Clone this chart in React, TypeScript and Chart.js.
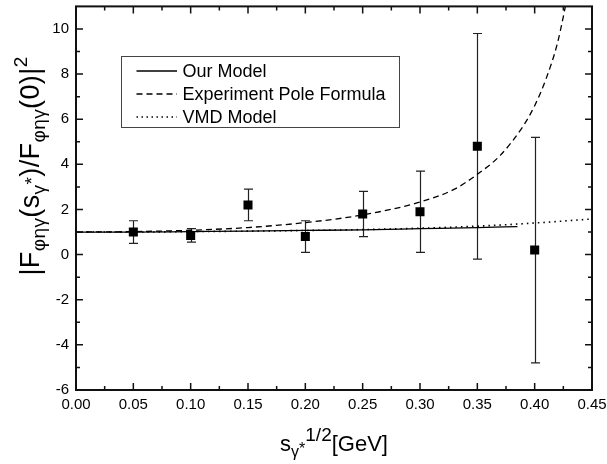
import React, { useEffect, useRef } from 'react';
import { Chart, registerables } from 'chart.js';
Chart.register(...registerables);

const FONT = '"Liberation Sans", Arial, Helvetica, sans-serif';

// Experimental points with symmetric error bars
const dataX = [0.05, 0.10, 0.15, 0.20, 0.25, 0.30, 0.35, 0.40];
const dataY = [1.0, 0.85, 2.2, 0.8, 1.8, 1.9, 4.8, 0.2];
const dataErr = [0.5, 0.3, 0.7, 0.7, 1.0, 1.8, 5.0, 5.0];

// Our Model (solid)
const ourModelX = [0, 0.05, 0.10, 0.15, 0.20, 0.25, 0.30, 0.35, 0.385];
const ourModelY = [1.0, 1.0, 1.02, 1.04, 1.07, 1.10, 1.15, 1.20, 1.24];

// Experiment Pole Formula (dashed)
const poleX = [0, 0.05, 0.10, 0.15, 0.20, 0.25, 0.30, 0.33, 0.35, 0.37, 0.39, 0.40, 0.41, 0.42, 0.43];
const poleY = [1.0, 1.02, 1.08, 1.2, 1.42, 1.76, 2.33, 2.9, 3.56, 4.4, 5.7, 6.6, 7.8, 9.4, 11.8];

// VMD Model (dotted)
const vmdX = [0, 0.05, 0.10, 0.15, 0.20, 0.25, 0.30, 0.35, 0.40, 0.45];
const vmdY = [1.0, 1.0, 1.02, 1.04, 1.07, 1.11, 1.17, 1.26, 1.40, 1.58];

const xTickValues = [0, 0.05, 0.10, 0.15, 0.20, 0.25, 0.30, 0.35, 0.40, 0.45];
const xMinorValues = [0.025, 0.075, 0.125, 0.175, 0.225, 0.275, 0.325, 0.375, 0.425];
const yTickValues = [-6, -4, -2, 0, 2, 4, 6, 8, 10];
const yMinorValues = [-5, -3, -1, 1, 3, 5, 7, 9];

const legendLabels = ['Our Model', 'Experiment Pole Formula', 'VMD Model'];

type Seg = { t: string; s: number; dy: number };

function segWidth(ctx: CanvasRenderingContext2D, segs: Seg[], ls: number) {
  let w = 0;
  for (const sg of segs) {
    ctx.font = `${sg.s}px ${FONT}`;
    w += ctx.measureText(sg.t).width + ls * sg.t.length;
  }
  return w;
}
function drawSegs(ctx: CanvasRenderingContext2D, segs: Seg[], x: number, y: number, ls: number) {
  let cx = x;
  ctx.textBaseline = 'alphabetic';
  ctx.textAlign = 'left';
  for (const sg of segs) {
    ctx.font = `${sg.s}px ${FONT}`;
    for (const ch of sg.t) {
      ctx.fillText(ch, cx, y + sg.dy);
      cx += ctx.measureText(ch).width + ls;
    }
  }
}

const yTitle: Seg[] = [
  { t: '|F', s: 27, dy: 0 },
  { t: 'φηγ', s: 19, dy: 6 },
  { t: '(s', s: 27, dy: 0 },
  { t: 'γ', s: 19, dy: 6 },
  { t: '*', s: 19, dy: -1 },
  { t: ')/F', s: 27, dy: 0 },
  { t: 'φηγ', s: 19, dy: 6 },
  { t: '(0)|', s: 27, dy: 0 },
  { t: '2', s: 19, dy: -12 },
];
const xTitle: Seg[] = [
  { t: 's', s: 22, dy: 0 },
  { t: 'γ', s: 16, dy: 6 },
  { t: '*', s: 16, dy: 3 },
  { t: '1/2', s: 19, dy: -10 },
  { t: '[GeV]', s: 22, dy: 0 },
];

const customPlugin = {
  id: 'customDraw',
  beforeDatasetsDraw(chart: any) {
    const ctx = chart.ctx as CanvasRenderingContext2D;
    const xs = chart.scales.x, ys = chart.scales.y;
    ctx.save();
    ctx.strokeStyle = '#222';
    ctx.lineWidth = 1.2;
    for (let i = 0; i < dataX.length; i++) {
      const px = Math.round(xs.getPixelForValue(dataX[i])) + 0.5;
      const pt = ys.getPixelForValue(dataY[i] + dataErr[i]);
      const pb = ys.getPixelForValue(dataY[i] - dataErr[i]);
      ctx.beginPath();
      ctx.moveTo(px, pt); ctx.lineTo(px, pb);
      ctx.moveTo(px - 4.5, pt); ctx.lineTo(px + 4.5, pt);
      ctx.moveTo(px - 4.5, pb); ctx.lineTo(px + 4.5, pb);
      ctx.stroke();
    }
    ctx.restore();
  },
  afterDraw(chart: any) {
    const ctx = chart.ctx as CanvasRenderingContext2D;
    const { left, right, top, bottom } = chart.chartArea;
    const xs = chart.scales.x, ys = chart.scales.y;
    ctx.save();
    // frame
    ctx.strokeStyle = '#111';
    ctx.lineWidth = 2;
    ctx.strokeRect(left, top, right - left, bottom - top);
    // ticks
    ctx.lineWidth = 1.5;
    ctx.beginPath();
    const tick = (vals: number[], len: number) => {
      for (const v of vals) {
        const px = xs.getPixelForValue(v);
        ctx.moveTo(px, bottom); ctx.lineTo(px, bottom - len);
        ctx.moveTo(px, top); ctx.lineTo(px, top + len);
      }
    };
    const ytick = (vals: number[], len: number) => {
      for (const v of vals) {
        const py = ys.getPixelForValue(v);
        ctx.moveTo(left, py); ctx.lineTo(left + len, py);
        ctx.moveTo(right, py); ctx.lineTo(right - len, py);
      }
    };
    tick(xTickValues, 7);
    tick(xMinorValues, 4);
    ytick(yTickValues, 7);
    ytick(yMinorValues, 4);
    ctx.stroke();

    // legend
    const lx = 121.5, ly = 56.5, lw = 278, lh = 71;
    ctx.fillStyle = '#fff';
    ctx.fillRect(lx, ly, lw, lh);
    ctx.strokeStyle = '#444';
    ctx.lineWidth = 1;
    ctx.strokeRect(lx, ly, lw, lh);
    const rows = [71, 94, 117];
    const dashes = [[], [6, 4], [1.5, 3.5]];
    const widths = [1.3, 1.3, 1.6];
    for (let i = 0; i < 3; i++) {
      ctx.beginPath();
      ctx.setLineDash(dashes[i]);
      ctx.lineWidth = widths[i];
      ctx.strokeStyle = '#000';
      ctx.moveTo(136.5, rows[i]);
      ctx.lineTo(177, rows[i]);
      ctx.stroke();
      ctx.setLineDash([]);
      ctx.fillStyle = '#000';
      ctx.font = `18px ${FONT}`;
      ctx.textBaseline = 'middle';
      ctx.textAlign = 'left';
      ctx.fillText(legendLabels[i], 182.5, rows[i] + 1);
    }

    // axis titles
    ctx.fillStyle = '#000';
    const xw = segWidth(ctx, xTitle, 0);
    drawSegs(ctx, xTitle, 334 - xw / 2, 451, 0);

    const yls = 0.4;
    const yw = segWidth(ctx, yTitle, yls);
    ctx.save();
    ctx.translate(39, 166 + yw / 2);
    ctx.rotate(-Math.PI / 2);
    drawSegs(ctx, yTitle, 0, 0, yls);
    ctx.restore();

    ctx.restore();
  },
};

export default function App() {
  const ref = useRef<HTMLCanvasElement>(null);
  useEffect(() => {
    const canvas = ref.current!;
    const line = (xsArr: number[], ysArr: number[]) => xsArr.map((x, i) => ({ x, y: ysArr[i] }));
    const chart = new Chart(canvas, {
      type: 'scatter',
      data: {
        datasets: [
          {
            label: 'Data',
            data: line(dataX, dataY),
            showLine: false,
            pointStyle: 'rect',
            pointRadius: 6.4,
            pointBackgroundColor: '#000',
            pointBorderColor: '#000',
            pointBorderWidth: 0,
          },
          {
            label: legendLabels[0],
            data: line(ourModelX, ourModelY),
            showLine: true,
            borderColor: '#000',
            borderWidth: 1.3,
            pointRadius: 0,
            cubicInterpolationMode: 'monotone',
          },
          {
            label: legendLabels[1],
            data: line(poleX, poleY),
            showLine: true,
            borderColor: '#000',
            borderWidth: 1.3,
            borderDash: [6, 4],
            pointRadius: 0,
            cubicInterpolationMode: 'monotone',
          },
          {
            label: legendLabels[2],
            data: line(vmdX, vmdY),
            showLine: true,
            borderColor: '#000',
            borderWidth: 1.6,
            borderDash: [1.5, 4],
            pointRadius: 0,
            cubicInterpolationMode: 'monotone',
          },
        ],
      } as any,
      options: {
        responsive: false,
        animation: false,
        events: [],
        layout: { padding: { left: 0, top: 6, right: 15, bottom: 0 } },
        plugins: { legend: { display: false }, tooltip: { enabled: false } },
        scales: {
          x: {
            type: 'linear',
            min: 0,
            max: 0.45,
            grid: { display: false, drawTicks: false },
            border: { display: false },
            afterBuildTicks: (s: any) => { s.ticks = xTickValues.map((v) => ({ value: v })); },
            afterFit: (s: any) => { s.height = 74; s.paddingLeft = 0; s.paddingRight = 0; },
            ticks: {
              color: '#000',
              padding: 7,
              font: { family: FONT, size: 15, lineHeight: 1 },
              callback: (v: any) => Number(v).toFixed(2),
              maxRotation: 0,
              autoSkip: false,
            },
          },
          y: {
            type: 'linear',
            min: -6,
            max: 11,
            grid: { display: false, drawTicks: false },
            border: { display: false },
            afterBuildTicks: (s: any) => { s.ticks = yTickValues.map((v) => ({ value: v })); },
            afterFit: (s: any) => { s.width = 76; s.paddingTop = 0; s.paddingBottom = 0; },
            ticks: {
              color: '#000',
              padding: 7,
              font: { family: FONT, size: 15, lineHeight: 0.8 },
              callback: (v: any) => String(v),
              autoSkip: false,
            },
          },
        },
      },
      plugins: [customPlugin],
    } as any);
    return () => chart.destroy();
  }, []);
  return (
    <div style={{ position: 'absolute', left: 0, top: 0, width: 607, height: 464, background: '#fff' }}>
      <canvas ref={ref} width={607} height={464} style={{ display: 'block' }} />
    </div>
  );
}
